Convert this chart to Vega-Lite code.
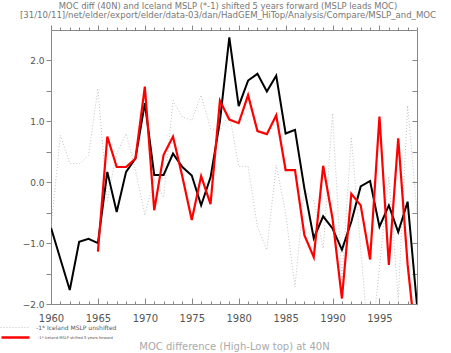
{
  "$schema": "https://vega.github.io/schema/vega-lite/v6.json",
  "width": 366,
  "height": 274,
  "autosize": {"type": "none"},
  "padding": {"left": 51, "top": 30, "right": 34, "bottom": 49},
  "background": "white",
  "title": {
    "text": "MOC diff (40N) and Iceland MSLP (*-1) shifted 5 years forward (MSLP leads MOC)",
    "subtitle": "[31/10/11]/net/elder/export/elder/data-03/dan/HadGEM_HiTop/Analysis/Compare/MSLP_and_MOC",
    "anchor": "middle",
    "frame": "group",
    "font": "DejaVu Sans",
    "subtitleFont": "DejaVu Sans",
    "fontSize": 8.4,
    "subtitleFontSize": 8.6,
    "fontWeight": "normal",
    "color": "#777777",
    "subtitleColor": "#777777",
    "offset": 5,
    "subtitlePadding": 1,
    "dx": -6
  },
  "config": {
    "view": {"stroke": null},
    "font": "DejaVu Sans",
    "axis": {
      "grid": false,
      "domainColor": "#888888",
      "tickColor": "#888888",
      "labelColor": "#555555",
      "labelFont": "DejaVu Sans",
      "titleFont": "DejaVu Sans",
      "labelFlush": false,
      "labelOverlap": false,
      "labelBound": false
    }
  },
  "data": {
    "values": [
      {"year": 1960, "moc": -0.75, "unshifted": -0.75, "shifted": null},
      {"year": 1961, "moc": -1.26, "unshifted": 0.77, "shifted": null},
      {"year": 1962, "moc": -1.77, "unshifted": 0.31, "shifted": null},
      {"year": 1963, "moc": -0.98, "unshifted": 0.30, "shifted": null},
      {"year": 1964, "moc": -0.93, "unshifted": 0.44, "shifted": null},
      {"year": 1965, "moc": -1.0, "unshifted": 1.54, "shifted": -1.14},
      {"year": 1966, "moc": 0.17, "unshifted": -0.3, "shifted": 0.75},
      {"year": 1967, "moc": -0.49, "unshifted": 0.47, "shifted": 0.25},
      {"year": 1968, "moc": 0.17, "unshifted": 0.8, "shifted": 0.25},
      {"year": 1969, "moc": 0.39, "unshifted": 0.2, "shifted": 0.39},
      {"year": 1970, "moc": 1.3, "unshifted": -0.54, "shifted": 1.57},
      {"year": 1971, "moc": 0.12, "unshifted": 0.05, "shifted": -0.46},
      {"year": 1972, "moc": 0.12, "unshifted": -0.25, "shifted": 0.45},
      {"year": 1973, "moc": 0.47, "unshifted": 1.34, "shifted": 0.75},
      {"year": 1974, "moc": 0.25, "unshifted": 1.07, "shifted": 0.09},
      {"year": 1975, "moc": 0.11, "unshifted": 1.02, "shifted": -0.62},
      {"year": 1976, "moc": -0.38, "unshifted": 1.43, "shifted": 0.1},
      {"year": 1977, "moc": 0.08, "unshifted": 0.88, "shifted": -0.36},
      {"year": 1978, "moc": 1.0, "unshifted": 0.85, "shifted": 1.34},
      {"year": 1979, "moc": 2.38, "unshifted": 1.13, "shifted": 1.03},
      {"year": 1980, "moc": 1.25, "unshifted": 0.26, "shifted": 0.97},
      {"year": 1981, "moc": 1.67, "unshifted": 0.26, "shifted": 1.43},
      {"year": 1982, "moc": 1.78, "unshifted": -0.73, "shifted": 0.84},
      {"year": 1983, "moc": 1.49, "unshifted": -1.11, "shifted": 0.79},
      {"year": 1984, "moc": 1.75, "unshifted": 0.28, "shifted": 1.1},
      {"year": 1985, "moc": 0.8, "unshifted": -0.51, "shifted": 0.2},
      {"year": 1986, "moc": 0.86, "unshifted": -1.72, "shifted": 0.2},
      {"year": 1987, "moc": -0.1, "unshifted": -0.13, "shifted": -0.87},
      {"year": 1988, "moc": -0.92, "unshifted": -0.3, "shifted": -1.23},
      {"year": 1989, "moc": -0.56, "unshifted": -1.09, "shifted": 0.27},
      {"year": 1990, "moc": -0.76, "unshifted": 1.13, "shifted": -0.6},
      {"year": 1991, "moc": -1.11, "unshifted": -1.6, "shifted": -1.91},
      {"year": 1992, "moc": -0.65, "unshifted": 0.74, "shifted": -0.19},
      {"year": 1993, "moc": -0.07, "unshifted": -1.1, "shifted": -0.38},
      {"year": 1994, "moc": 0.02, "unshifted": -2.9, "shifted": -1.27},
      {"year": 1995, "moc": -0.73, "unshifted": -1.4, "shifted": 1.08},
      {"year": 1996, "moc": -0.38, "unshifted": 0.09, "shifted": -1.36},
      {"year": 1997, "moc": -0.82, "unshifted": -1.93, "shifted": 0.72},
      {"year": 1998, "moc": -0.32, "unshifted": 1.26, "shifted": -1.35},
      {"year": 1999, "moc": -2.02, "unshifted": -0.5, "shifted": -2.8}
    ]
  },
  "resolve": {"axis": {"x": "independent", "y": "independent"}, "scale": {"color": "independent"}},
  "layer": [
    {
      "mark": {"type": "line", "clip": true, "strokeWidth": 0.8, "strokeDash": [1, 2]},
      "encoding": {
        "x": {
          "field": "year", "type": "quantitative",
          "scale": {"domain": [1960, 1999], "nice": false, "zero": false},
          "axis": {
            "orient": "bottom",
            "values": [1960,1961,1962,1963,1964,1965,1966,1967,1968,1969,1970,1971,1972,1973,1974,1975,1976,1977,1978,1979,1980,1981,1982,1983,1984,1985,1986,1987,1988,1989,1990,1991,1992,1993,1994,1995,1996,1997,1998,1999],
            "format": "d",
            "labelExpr": "datum.value % 5 === 0 ? datum.label : ''",
            "tickSize": {"condition": {"test": "datum.value % 5 === 0", "value": -6}, "value": -3},
            "labelFontSize": 10,
            "labelPadding": 15,
            "title": "MOC difference (High-Low top) at 40N",
            "titleFontSize": 10,
            "titleFontWeight": "normal",
            "titleColor": "#aaaaaa",
            "titlePadding": 15
          }
        },
        "y": {
          "field": "unshifted", "type": "quantitative",
          "scale": {"domain": [-2, 2.5], "nice": false, "zero": false},
          "axis": {
            "orient": "left",
            "values": [-2, -1.5, -1, -0.5, 0, 0.5, 1, 1.5, 2],
            "labelExpr": "datum.value % 1 === 0 ? format(datum.value, '.1f') : ''",
            "tickSize": 5,
            "labelFontSize": 9,
            "labelPadding": 2,
            "title": null
          }
        },
        "color": {
          "datum": "-1* Iceland MSLP unshifted",
          "scale": {"range": ["#b4b4b4"]},
          "legend": {
            "orient": "none",
            "legendX": -51,
            "legendY": 283,
            "title": null,
            "symbolType": "stroke",
            "symbolSize": 784,
            "symbolStrokeWidth": 0.8,
            "symbolDash": [1, 2],
            "labelColor": "#555555",
            "labelFontSize": 6,
            "labelOffset": 7
          }
        }
      }
    },
    {
      "mark": {"type": "line", "color": "#000000", "strokeWidth": 2, "clip": true},
      "encoding": {
        "x": {
          "field": "year", "type": "quantitative",
          "axis": {
            "orient": "top",
            "values": [1960,1961,1962,1963,1964,1965,1966,1967,1968,1969,1970,1971,1972,1973,1974,1975,1976,1977,1978,1979,1980,1981,1982,1983,1984,1985,1986,1987,1988,1989,1990,1991,1992,1993,1994,1995,1996,1997,1998,1999],
            "labels": false,
            "tickSize": {"condition": {"test": "datum.value % 5 === 0", "value": 5}, "value": 3},
            "title": null
          }
        },
        "y": {
          "field": "moc", "type": "quantitative",
          "axis": {
            "orient": "right",
            "values": [-2, -1.5, -1, -0.5, 0, 0.5, 1, 1.5, 2],
            "labels": false,
            "tickSize": -5,
            "title": null
          }
        }
      }
    },
    {
      "mark": {"type": "line", "clip": true, "strokeWidth": 2.2},
      "encoding": {
        "x": {"field": "year", "type": "quantitative", "axis": null},
        "y": {"field": "shifted", "type": "quantitative", "axis": null},
        "color": {
          "datum": "-1* Iceland MSLP shifted 5 years forward",
          "scale": {"range": ["#ff0000"]},
          "legend": {
            "orient": "none",
            "legendX": -51,
            "legendY": 292,
            "title": null,
            "symbolType": "stroke",
            "symbolSize": 784,
            "symbolStrokeWidth": 2.5,
            "labelColor": "#555555",
            "labelFontSize": 3.7,
            "labelOffset": 7
          }
        }
      }
    }
  ]
}
